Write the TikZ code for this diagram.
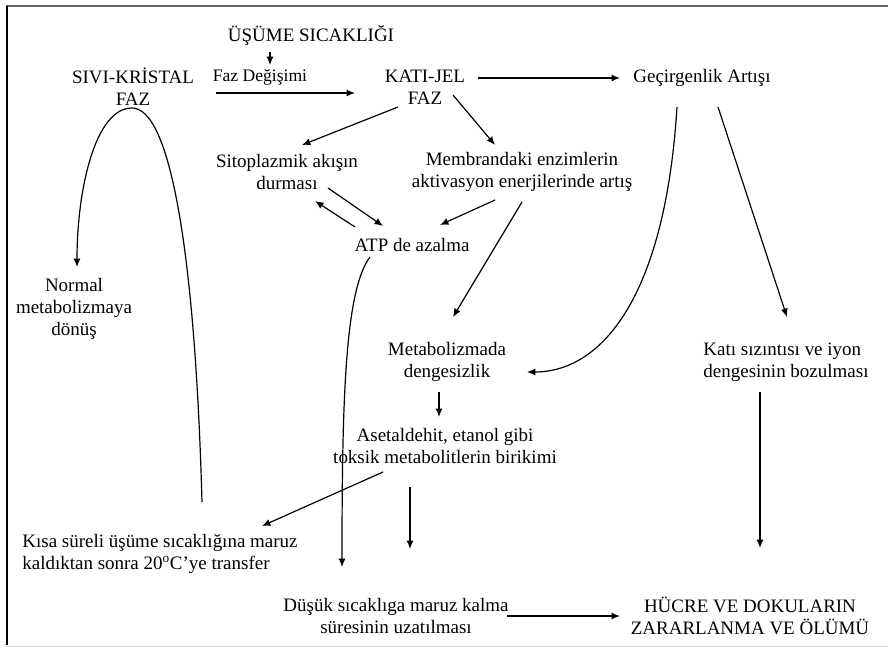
\documentclass[tikz,border=0pt]{standalone}
\usepackage{fontspec}
\setmainfont{Liberation Serif}
\usetikzlibrary{arrows.meta}

\begin{document}
\begin{tikzpicture}[x=0.025cm,y=-0.025cm,
    txt/.style={align=center,inner sep=1pt,font=\fontsize{13.5}{15.6}\selectfont},
    caps/.style={txt,font=\fontsize{13.5}{15.6}\selectfont},
    arr/.style={-{Latex[length=6pt,width=5pt]},line width=0.85pt}]

    \useasboundingbox (0,0) rectangle (888,649);
    % frame
    \draw[line width=1.5pt,black!60] (6,6) -- (888,6);
    \draw[line width=0.8pt] (7,6) -- (7,645);
    \draw[line width=0.6pt,black!15] (7,646) -- (888,646);

    % top row
    \node[caps] (usume)   at (311,35)  {ÜŞÜME SICAKLIĞI};
    \node[txt,font=\fontsize{12.5}{15.6}\selectfont] (faz) at (260,77) {Faz Değişimi};
    \node[caps] (sivi)    at (133,87)  {SIVI-KRİSTAL\\FAZ};
    \node[caps] (katijel) at (425,87)  {KATI-JEL\\FAZ};
    \node[txt]  (gecir)   at (702,78)  {Geçirgenlik Artışı};
    % middle
    \node[txt]  (sito)    at (287,172) {Sitoplazmik akışın\\durması};
    \node[txt]  (memb)    at (522,172) {Membrandaki enzimlerin\\aktivasyon enerjilerinde artış};
    \node[txt]  (atp)     at (412,245) {ATP de azalma};
    \node[txt]  (normal)  at (74,309)  {Normal\\metabolizmaya\\dönüş};
    \node[txt]  (metab)   at (447,362) {Metabolizmada\\dengesizlik};
    \node[txt,align=left] (katisiz) at (786,362) {Katı sızıntısı ve iyon\\dengesinin bozulması};
    \node[txt]  (aset)    at (445,446) {Asetaldehit, etanol gibi\\toksik metabolitlerin birikimi};
    % bottom
    \node[txt,align=left] (kisa) at (160,554) {Kısa süreli üşüme sıcaklığına maruz\\kaldıktan sonra 20\textsuperscript{o}C’ye transfer};
    \node[txt]  (dusuk)   at (396,616) {Düşük sıcaklıga maruz kalma\\süresinin uzatılması};
    \node[caps] (hucre)   at (750,616) {HÜCRE VE DOKULARIN\\ZARARLANMA VE ÖLÜMÜ};

    % arrows
    \draw[arr] ([shift={(-41,17)}]usume.center) -- ([shift={(10,-12)}]faz.center);
    \draw[arr] ([shift={(83,6)}]sivi.center) -- ([shift={(-70,6)}]katijel.center);
    \draw[arr] ([shift={(53,-9)}]katijel.center) -- ([shift={(-82,0)}]gecir.center);
    \draw[arr] ([shift={(-27,20)}]katijel.center) -- ([shift={(15,-27)}]sito.center);
    \draw[arr] ([shift={(28,8)}]katijel.center) -- ([shift={(-27,-27)}]memb.center);
    \draw[arr] ([shift={(41,16)}]sito.center) -- ([shift={(-29,-19)}]atp.center);
    \draw[arr] ([shift={(-57,-18)}]atp.center) -- ([shift={(28,29)}]sito.center);
    \draw[arr] ([shift={(-27,28)}]memb.center) -- ([shift={(28,-20)}]atp.center);
    \draw[arr] ([shift={(0,30)}]memb.center) -- ([shift={(6,-45)}]metab.center);
    \draw[arr] ([shift={(-25,29)}]gecir.center) .. controls (665,300) and (600,372) .. ([shift={(80,10)}]metab.center);
    \draw[arr] ([shift={(16,29)}]gecir.center) -- ([shift={(1,-45)}]katisiz.center);
    \draw[arr] ([shift={(-8,30)}]metab.center) -- ([shift={(-6,-29)}]aset.center);
    \draw[arr] ([shift={(-62,26)}]aset.center) -- ([shift={(102,-28)}]kisa.center);
    \draw[arr] ([shift={(-35,41)}]aset.center) -- ([shift={(14,-67)}]dusuk.center);
    \draw[arr] ([shift={(42,-52)}]kisa.center) .. controls (195,250) and (170,108) .. ([shift={(-1,21)}]sivi.center)
        .. controls (95,108) and (77,190) .. ([shift={(3,-42)}]normal.center);
    \draw[arr] ([shift={(-42,12)}]atp.center) .. controls (345,290) and (342,400) .. ([shift={(-54,-49)}]dusuk.center);
    \draw[arr] ([shift={(111,0)}]dusuk.center) -- ([shift={(-130,0)}]hucre.center);
    \draw[arr] ([shift={(-26,30)}]katisiz.center) -- ([shift={(10,-68)}]hucre.center);

\end{tikzpicture}
\end{document}
